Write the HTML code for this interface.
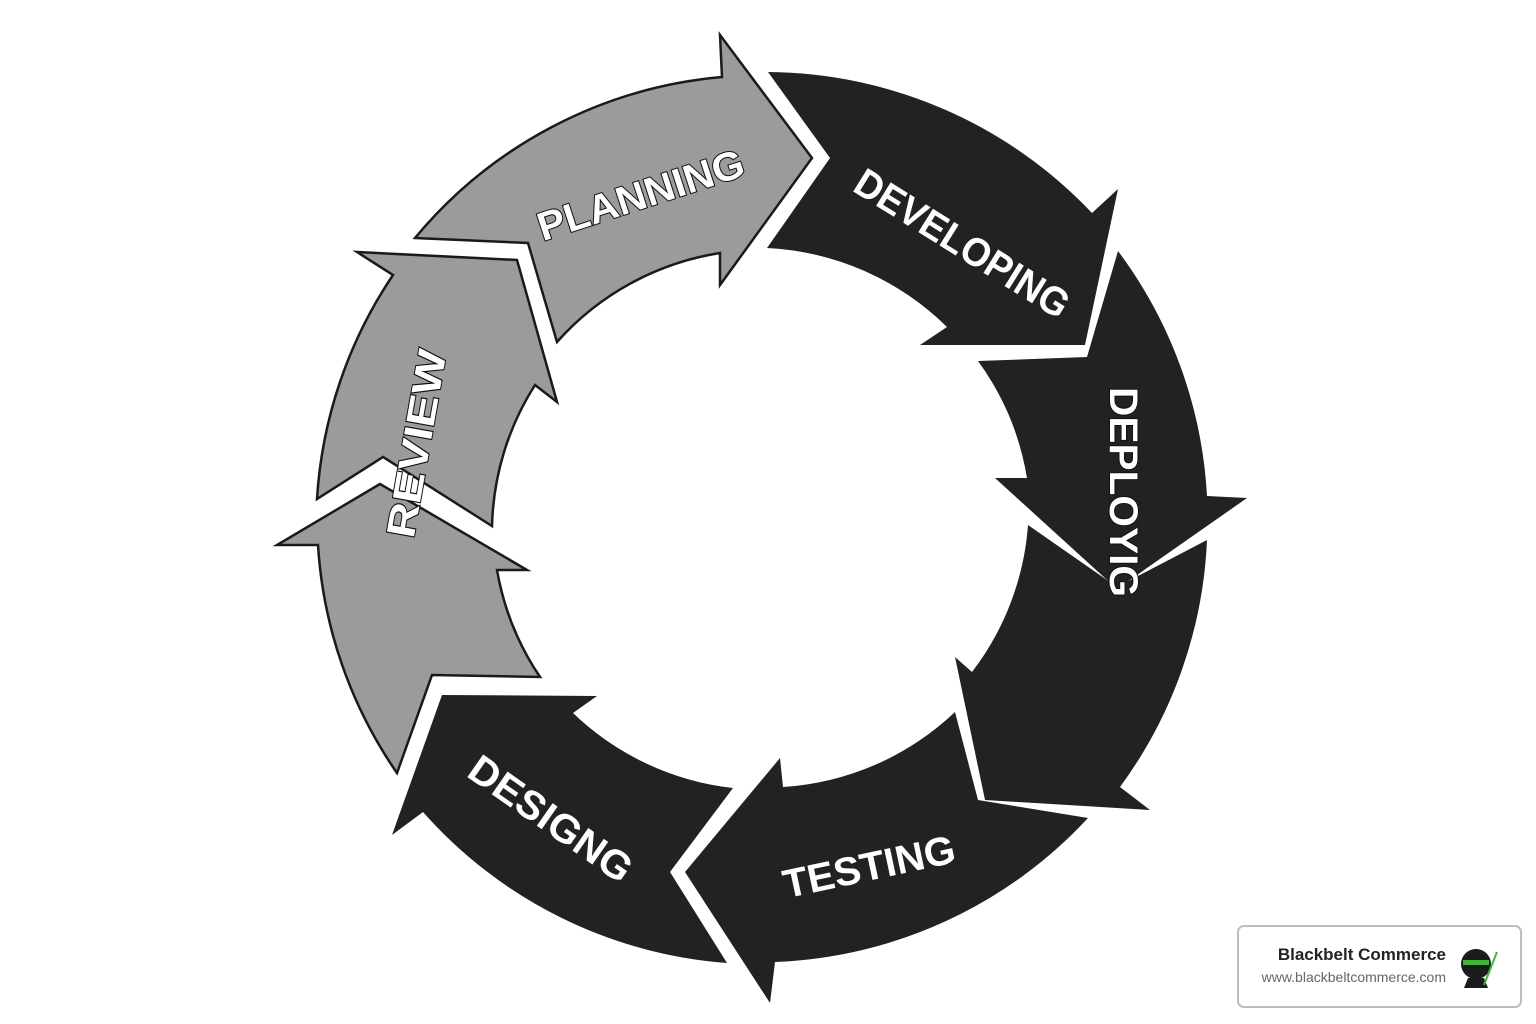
<!DOCTYPE html>
<html><head><meta charset="utf-8"><style>
html,body{margin:0;padding:0;background:#fff;width:1536px;height:1024px;overflow:hidden}
</style></head><body>
<svg width="1536" height="1024" viewBox="0 0 1536 1024" xmlns="http://www.w3.org/2000/svg">
<g stroke="#1a1a1a" stroke-width="2.5" stroke-linejoin="miter">
<!-- Planning -->
<path fill="#9b9b9b" d="M415,238 L528,243 L557,342 A275,275 0 0 1 720,253 L720,285 L812,158 L720,35 L722,77 A450,450 0 0 0 415,238 Z"/>
<!-- Review upper -->
<path fill="#9b9b9b" d="M357,252 L517,260 L557,402 L535,385 A275,275 0 0 0 492,526 L383,457 L317,499 A450,450 0 0 1 393,275 Z"/>
<!-- Review lower -->
<path fill="#9b9b9b" d="M380,484 L527,570 L497,570 A275,275 0 0 0 540,677 L432,675 L397,773 A450,450 0 0 1 318,545 L277,545 Z"/>
</g>
<g fill="#222" stroke="none">
<path d="M768,72 L830,158 L767,248 A275,275 0 0 1 947,327 L920,345 L1085,345 L1118,189 L1092,213 A450,450 0 0 0 768,72 Z"/>
<path d="M1118,251 L1087,357 L978,361 A275,275 0 0 1 1027,478 L995,478 L1117,589 L1247,498 L1207,496 A450,450 0 0 0 1118,251 Z"/>
<path d="M1028,525 L1117,587 L1207,540 A450,450 0 0 1 1120,787 L1150,810 L985,800 L955,657 L972,672 A275,275 0 0 0 1028,525 Z"/>
<path d="M685,872 L780,758 L783,787 A275,275 0 0 0 955,712 L978,800 L1088,818 A450,450 0 0 1 775,962 L770,1003 Z"/>
<path d="M442,695 L597,696 L573,713 A275,275 0 0 0 733,788 L670,872 L727,963 A450,450 0 0 1 423,812 L392,835 Z"/>
</g>
<g font-family="Liberation Sans, sans-serif" font-weight="bold" font-size="40" fill="#fff" stroke="#111" stroke-width="2" paint-order="stroke" text-anchor="middle">
<text transform="translate(645,208) rotate(-18)" textLength="215" lengthAdjust="spacingAndGlyphs">PLANNING</text>
<text transform="translate(955,255) rotate(32)" textLength="245" lengthAdjust="spacingAndGlyphs" stroke="none">DEVELOPING</text>
<text transform="translate(1110,492) rotate(90)" textLength="210" lengthAdjust="spacingAndGlyphs">DEPLOYIG</text>
<text transform="translate(872,880) rotate(-12)" textLength="175" lengthAdjust="spacingAndGlyphs" stroke="none">TESTING</text>
<text transform="translate(543,830) rotate(35)" textLength="190" lengthAdjust="spacingAndGlyphs" stroke="none">DESIGNG</text>
<text transform="translate(430,446) rotate(-80)" textLength="190" lengthAdjust="spacingAndGlyphs">REVIEW</text>
</g>
<rect x="1238" y="926" width="283" height="81" rx="6" fill="#fff" stroke="#bdbdbd" stroke-width="2"/>
<text x="1446" y="960" text-anchor="end" font-family="Liberation Sans, sans-serif" font-weight="bold" font-size="17" fill="#222">Blackbelt Commerce</text>
<text x="1446" y="982" text-anchor="end" font-family="Liberation Sans, sans-serif" font-size="14" fill="#666">www.blackbeltcommerce.com</text>
<circle cx="1476" cy="964" r="15" fill="#1b1b1b"/>
<rect x="1463" y="960" width="26" height="5" fill="#3fb53a"/>
<path d="M1468,978 L1484,978 L1488,988 L1464,988 Z" fill="#1b1b1b"/>
<line x1="1484" y1="985" x2="1497" y2="952" stroke="#3fb53a" stroke-width="2"/>
</svg>
</body></html>
